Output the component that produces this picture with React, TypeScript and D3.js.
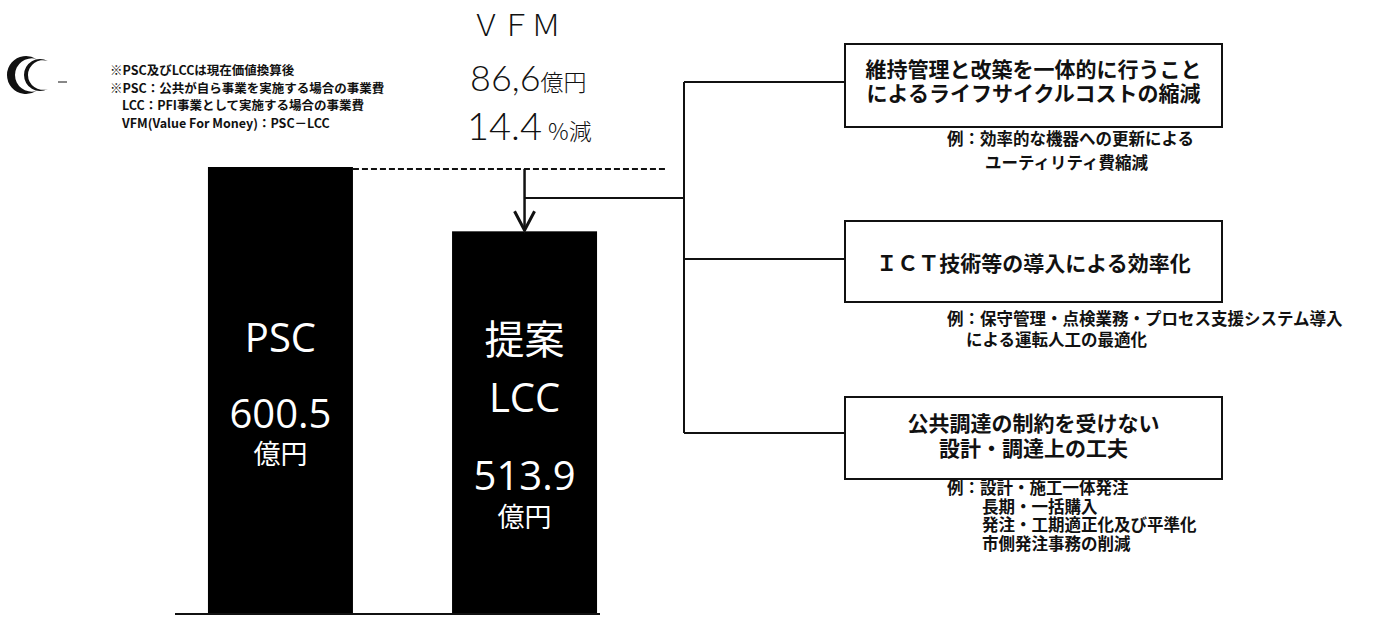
import React, { useEffect, useRef } from "react";
import * as d3 from "d3";

// bars
const categories = ["PSC", "提案LCC"];
const costs = [600.5, 513.9];
const barTitles = [["PSC"], ["提案", "LCC"]];
const costLabels = ["600.5", "513.9"];
const unitLabel = "億円";

// VFM block
const vfmTitle = "ＶＦＭ";
const vfmAmount = "86,6";
const vfmPercent = "14.4";

const notes = [
  "※PSC及びLCCは現在価値換算後",
  "※PSC：公共が自ら事業を実施する場合の事業費",
  "LCC：PFI事業として実施する場合の事業費",
  "VFM(Value For Money)：PSC－LCC",
];

const measures = [
  ["維持管理と改築を一体的に行うこと", "によるライフサイクルコストの縮減"],
  ["ＩＣＴ技術等の導入による効率化"],
  ["公共調達の制約を受けない", "設計・調達上の工夫"],
];

const examples = [
  ["例：効率的な機器への更新による", "ユーティリティ費縮減"],
  ["例：保守管理・点検業務・プロセス支援システム導入", "による運転人工の最適化"],
  ["例：設計・施工一体発注", "長期・一括購入", "発注・工期適正化及び平準化", "市側発注事務の削減"],
];

const JP = "'Noto Sans CJK JP', 'Noto Sans', sans-serif";
const LATIN = "'Open Sans', 'Noto Sans CJK JP', sans-serif";
const THIN = "Lato, 'Open Sans', sans-serif";

const App = () => {
  const svgRef = useRef(null);

  useEffect(() => {
    const width = 1384, height = 621;
    const svg = d3.select(svgRef.current)
      .attr("width", width)
      .attr("height", height);

    svg.selectAll("*").remove();

    svg.append("rect")
      .attr("width", width)
      .attr("height", height)
      .attr("fill", "#fff");

    const x = d3.scaleBand()
      .domain(categories)
      .range([175, 630])
      .paddingInner(0.406)
      .paddingOuter(0.135);

    const y = d3.scaleLinear()
      .domain([0, costs[0]])
      .range([613, 167]);

    const ink = "#111";

    // bars
    svg.selectAll(".bar")
      .data(categories)
      .enter()
      .append("rect")
      .attr("class", "bar")
      .attr("x", d => x(d))
      .attr("y", (d, i) => y(costs[i]))
      .attr("width", x.bandwidth())
      .attr("height", (d, i) => y(0) - y(costs[i]))
      .attr("fill", "#000");

    // baseline
    svg.append("line")
      .attr("x1", 175).attr("x2", 600)
      .attr("y1", y(0) + 1).attr("y2", y(0) + 1)
      .attr("stroke", ink).attr("stroke-width", 2);

    // labels inside bars
    const titleY = [[352], [354, 412]];
    const valueY = [428, 490];
    const unitY = [464, 527];
    categories.forEach((c, i) => {
      const cx = x(c) + x.bandwidth() / 2;
      barTitles[i].forEach((t, j) => {
        svg.append("text")
          .attr("x", cx).attr("y", titleY[i][j])
          .attr("text-anchor", "middle")
          .attr("fill", "#fff")
          .attr("font-family", t === "提案" ? JP : LATIN)
          .attr("font-size", 40)
          .text(t);
      });
      svg.append("text")
        .attr("x", cx).attr("y", valueY[i])
        .attr("text-anchor", "middle")
        .attr("fill", "#fff")
        .attr("font-family", LATIN)
        .attr("font-size", 40)
        .text(costLabels[i]);
      svg.append("text")
        .attr("x", cx).attr("y", unitY[i])
        .attr("text-anchor", "middle")
        .attr("fill", "#fff")
        .attr("font-family", JP)
        .attr("font-size", 27)
        .text(unitLabel);
    });

    // dashed PSC level + arrow down to LCC
    const pscTop = y(costs[0]) + 2;
    const lccTop = y(costs[1]);
    const arrowX = x(categories[1]) + x.bandwidth() / 2;
    svg.append("line")
      .attr("x1", x(categories[0]) + x.bandwidth()).attr("x2", 665)
      .attr("y1", pscTop).attr("y2", pscTop)
      .attr("stroke", ink).attr("stroke-width", 2)
      .attr("stroke-dasharray", "6,3");
    svg.append("line")
      .attr("x1", arrowX).attr("x2", arrowX)
      .attr("y1", pscTop).attr("y2", lccTop - 1)
      .attr("stroke", ink).attr("stroke-width", 2.5);
    svg.append("path")
      .attr("d", `M${arrowX - 10},${lccTop - 20}L${arrowX},${lccTop - 1}L${arrowX + 10},${lccTop - 20}`)
      .attr("fill", "none").attr("stroke", ink).attr("stroke-width", 3);

    // connectors to the measure boxes
    const trunkX = 684;
    const branchY = 198;
    const boxX0 = 845, boxX1 = 1222;
    const boxes = [
      { y0: 44, y1: 127, link: 82, lines: [77, 101], ex: 145, exStep: 24, exIndent: 985 },
      { y0: 221, y1: 302, link: 259, lines: [271], ex: 325, exStep: 21, exIndent: 966 },
      { y0: 397, y1: 479, link: 433, lines: [431, 456], ex: 494, exStep: 18.5, exIndent: 982 },
    ];

    svg.append("line")
      .attr("x1", arrowX).attr("x2", trunkX)
      .attr("y1", branchY).attr("y2", branchY)
      .attr("stroke", ink).attr("stroke-width", 2);
    svg.append("line")
      .attr("x1", trunkX).attr("x2", trunkX)
      .attr("y1", boxes[0].link).attr("y2", boxes[2].link)
      .attr("stroke", ink).attr("stroke-width", 2);

    boxes.forEach((b, i) => {
      svg.append("line")
        .attr("x1", trunkX).attr("x2", boxX0)
        .attr("y1", b.link).attr("y2", b.link)
        .attr("stroke", ink).attr("stroke-width", 2);
      svg.append("rect")
        .attr("x", boxX0).attr("y", b.y0)
        .attr("width", boxX1 - boxX0).attr("height", b.y1 - b.y0)
        .attr("fill", "#fff")
        .attr("stroke", ink).attr("stroke-width", 2);
      measures[i].forEach((t, j) => {
        svg.append("text")
          .attr("x", (boxX0 + boxX1) / 2).attr("y", b.lines[j])
          .attr("text-anchor", "middle")
          .attr("font-family", JP)
          .attr("font-weight", 700)
          .attr("font-size", 21)
          .attr("fill", ink)
          .text(t);
      });
      examples[i].forEach((t, j) => {
        svg.append("text")
          .attr("x", j === 0 ? 947 : b.exIndent)
          .attr("y", b.ex + j * b.exStep)
          .attr("font-family", JP)
          .attr("font-weight", 700)
          .attr("font-size", 16.5)
          .attr("fill", ink)
          .text(t);
      });
    });

    // VFM figures
    svg.append("text")
      .attr("x", 516).attr("y", 36)
      .attr("text-anchor", "middle")
      .attr("font-family", JP)
      .attr("font-weight", 300)
      .attr("font-size", 30)
      .attr("fill", ink)
      .text(vfmTitle);

    const amt = svg.append("text")
      .attr("x", 470).attr("y", 91)
      .attr("font-family", THIN)
      .attr("font-weight", 300)
      .attr("font-size", 36)
      .attr("fill", ink);
    amt.append("tspan").text(vfmAmount);
    amt.append("tspan")
      .attr("font-family", JP)
      .attr("font-size", 23)
      .text(unitLabel);

    const pct = svg.append("text")
      .attr("x", 467).attr("y", 140)
      .attr("font-family", THIN)
      .attr("font-weight", 300)
      .attr("font-size", 38)
      .attr("fill", ink);
    pct.append("tspan").text(vfmPercent);
    pct.append("tspan")
      .attr("dx", 6)
      .attr("font-family", JP)
      .attr("font-size", 23)
      .text("%減");

    // notes
    notes.forEach((t, i) => {
      svg.append("text")
        .attr("x", i < 2 ? 110 : 122)
        .attr("y", 75 + i * 17.7)
        .attr("font-family", JP)
        .attr("font-weight", 700)
        .attr("font-size", 12.5)
        .attr("fill", ink)
        .text(t);
    });

    // logo: two crescents
    const crescent = (cx, cy, r, h, thick) => {
      const tx = cx + Math.sqrt(r * r - h * h);
      const left = cx - r + thick;
      const r2 = ((tx - left) ** 2 + h * h) / (2 * (tx - left));
      return `M${tx},${cy - h}A${r},${r} 0 1 0 ${tx},${cy + h}A${r2},${r2} 0 1 1 ${tx},${cy - h}Z`;
    };
    svg.append("path")
      .attr("d", crescent(26, 75, 19, 16, 8))
      .attr("fill", ink);
    svg.append("path")
      .attr("d", crescent(40, 75, 16, 14, 4))
      .attr("fill", ink);
    svg.append("line")
      .attr("x1", 58).attr("x2", 67)
      .attr("y1", 82).attr("y2", 82)
      .attr("stroke", ink).attr("stroke-width", 1);
  }, []);

  return <svg ref={svgRef} style={{ position: "absolute", left: 0, top: 0, display: "block" }}></svg>;
};

export default App;
